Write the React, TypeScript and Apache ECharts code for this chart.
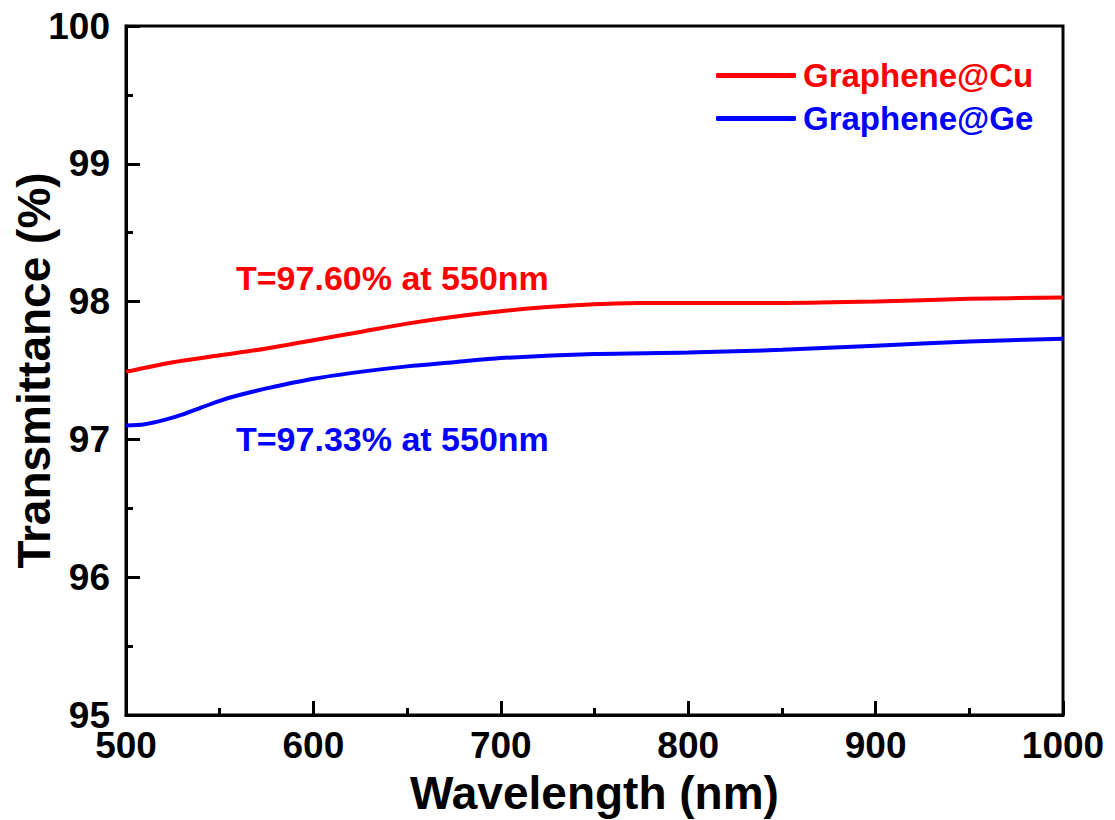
import React, { useEffect, useRef } from "react";
import * as echarts from "echarts";

const cuWavelength = [500, 525, 550, 575, 600, 625, 650, 675, 700, 725, 750, 775, 800, 850, 900, 950, 1000];
const cuValues = [97.49, 97.56, 97.61, 97.66, 97.72, 97.78, 97.84, 97.89, 97.93, 97.96, 97.98, 97.99, 97.99, 97.99, 98.0, 98.02, 98.03];

const geWavelength = [500, 510, 520, 530, 540, 550, 560, 575, 600, 625, 650, 675, 700, 750, 800, 850, 900, 950, 1000];
const geValues = [97.1, 97.11, 97.14, 97.18, 97.23, 97.28, 97.32, 97.37, 97.44, 97.49, 97.53, 97.56, 97.59, 97.62, 97.63, 97.65, 97.68, 97.71, 97.73];

const xTicks = [500, 600, 700, 800, 900, 1000];
const yTicks = [95, 96, 97, 98, 99, 100];

const seriesNames = ["Graphene@Cu", "Graphene@Ge"];
const seriesColors = ["#ff0000", "#0000ff"];
const annotations = ["T=97.60% at 550nm", "T=97.33% at 550nm"];

const FONT = "'Liberation Sans', Arial, sans-serif";

export default function App() {
  const ref = useRef<HTMLDivElement>(null);
  useEffect(() => {
    document.body.style.margin = "0";
    const chart = echarts.init(ref.current!, null, { renderer: "svg" });
    chart.setOption({
      animation: false,
      backgroundColor: "#ffffff",
      grid: {
        left: 126,
        right: 52,
        top: 26,
        bottom: 105,
        containLabel: false,
        outerBoundsMode: "none",
        show: true,
        borderColor: "#000",
        borderWidth: 3,
      },
      legend: {
        orient: "vertical",
        left: 711,
        top: 54,
        itemWidth: 80,
        itemHeight: 5,
        itemGap: 10,
        icon: "roundRect",
        data: seriesNames.map((n, i) => ({
          name: n,
          textStyle: { color: seriesColors[i] },
        })),
        textStyle: { fontFamily: FONT, fontWeight: "bold", fontSize: 33, padding: [0, 0, 0, 2] },
      },
      xAxis: {
        type: "value",
        min: xTicks[0],
        max: xTicks[xTicks.length - 1],
        interval: 100,
        name: "Wavelength (nm)",
        nameLocation: "middle",
        nameGap: 55,
        nameMoveOverlap: false,
        nameTextStyle: { fontFamily: FONT, fontWeight: "bold", fontSize: 46, color: "#000" },
        axisLine: { show: true, lineStyle: { color: "#000", width: 3 } },
        axisTick: { show: true, inside: true, length: 14, lineStyle: { color: "#000", width: 3 } },
        minorTick: { show: true, splitNumber: 2, length: 7, lineStyle: { color: "#000", width: 3 } },
        splitLine: { show: false },
        axisLabel: {
          fontFamily: FONT, fontWeight: "bold", fontSize: 37, color: "#000", margin: 12,
          formatter: (v: number) => (xTicks.includes(v) ? String(v) : ""),
        },
      },
      yAxis: {
        type: "value",
        min: yTicks[0],
        max: yTicks[yTicks.length - 1],
        interval: 1,
        name: "Transmittance (%)",
        nameLocation: "middle",
        nameGap: 69,
        nameMoveOverlap: false,
        nameRotate: 90,
        nameTextStyle: { fontFamily: FONT, fontWeight: "bold", fontSize: 46, color: "#000" },
        axisLine: { show: true, lineStyle: { color: "#000", width: 3 } },
        axisTick: { show: true, inside: true, length: 14, lineStyle: { color: "#000", width: 3 } },
        minorTick: { show: true, splitNumber: 2, length: 7, lineStyle: { color: "#000", width: 3 } },
        splitLine: { show: false },
        axisLabel: {
          fontFamily: FONT, fontWeight: "bold", fontSize: 37, color: "#000", margin: 16,
          formatter: (v: number) => (yTicks.includes(v) ? String(v) : ""),
        },
      },
      series: [
        {
          name: seriesNames[0],
          type: "line",
          data: cuWavelength.map((x, i) => [x, cuValues[i]]),
          smooth: 0.3,
          showSymbol: false,
          lineStyle: { color: seriesColors[0], width: 4 },
          itemStyle: { color: seriesColors[0] },
          z: 3,
        },
        {
          name: seriesNames[1],
          type: "line",
          data: geWavelength.map((x, i) => [x, geValues[i]]),
          smooth: 0.3,
          showSymbol: false,
          lineStyle: { color: seriesColors[1], width: 4 },
          itemStyle: { color: seriesColors[1] },
          z: 3,
        },
      ],
      graphic: [
        {
          type: "text",
          left: 236,
          top: 261,
          style: { text: annotations[0], fill: seriesColors[0], font: `bold 34px ${FONT}` },
        },
        {
          type: "text",
          left: 236,
          top: 422,
          style: { text: annotations[1], fill: seriesColors[1], font: `bold 34px ${FONT}` },
        },
      ],
    });
    return () => chart.dispose();
  }, []);
  return <div ref={ref} style={{ width: 1115, height: 820 }} />;
}
